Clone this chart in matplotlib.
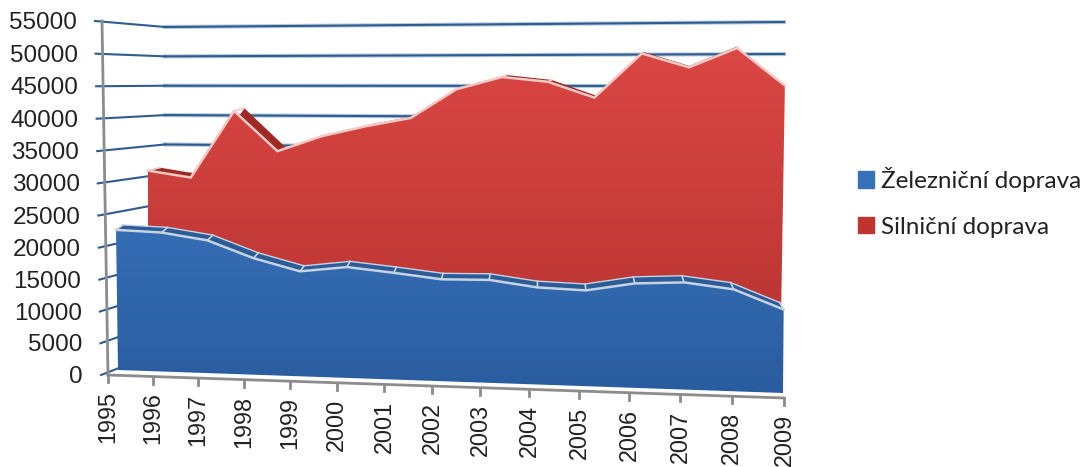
import numpy as np
import matplotlib
matplotlib.use("Agg")
import matplotlib.pyplot as plt
from matplotlib.patches import Patch
from matplotlib.transforms import Transform

years = np.arange(1995, 2010)
zeleznicni = [22050, 21800, 20750, 18150, 16300, 17150, 16450, 15650, 15750, 14800, 14550, 15800, 16150, 15300, 12500]
silnicni = [30300, 29300, 40200, 33800, 36300, 38000, 39400, 44000, 46000, 45300, 42900, 49800, 47700, 50700, 45000]
y_ticks = np.arange(0, 55001, 5000)


class Plane(Transform):
    # maps (year, value) to picture pixels, from the four corners of a 3D chart plane
    input_dims = output_dims = 2

    def __init__(self, bl, br, tl, tr):
        super().__init__()
        src = [(1995, 0), (2009, 0), (1995, 55000), (2009, 55000)]
        A, b = [], []
        for (u, v), (x, y) in zip(src, [bl, br, tl, tr]):
            u, v = (u - 1995) / 14, v / 55000
            A.append([u, v, 1, 0, 0, 0, -u * x, -v * x])
            A.append([0, 0, 0, u, v, 1, -u * y, -v * y])
            b += [x, y]
        self.h = np.append(np.linalg.solve(np.array(A, float), np.array(b, float)), 1).reshape(3, 3)

    def transform_non_affine(self, values):
        values = np.asarray(values, float)
        p = np.c_[(values[:, 0] - 1995) / 14, values[:, 1] / 55000, np.ones(len(values))] @ self.h.T
        return p[:, :2] / p[:, 2:]


axis_plane = Plane((108, 375), (784, 398), (102, 21), (790, 13))
back_plane = Plane((165, 350), (784, 374), (165, 27), (784, 22))
blue_front = Plane((118, 370), (783, 393), (113, 18), (786, 22))
blue_back = Plane((125, 365), (779, 386), (120, 13), (782, 15))
red_front = Plane((148, 355), (780, 378), (148, 19), (786, 20))
red_back = Plane((160, 352), (778, 376), (160, 16), (784, 19))

fig = plt.figure(figsize=(10.83, 4.67), dpi=100)
ax = fig.add_axes([0, 0, 1, 1])
ax.axis("off")


def on(plane):
    return plane + ax.transData


def left_end(v):
    return axis_plane.transform_non_affine(np.array([[1995, v]]))[0]


# walls, the lower lines stop behind the red area
for v in y_ticks:
    end = 2009 if v > silnicni[-1] else 2008
    ax.plot([1995, end], [v, v], transform=on(back_plane), color="#b9cbe0", lw=3, zorder=1)
    ax.plot([1995, end], [v, v], transform=on(back_plane), color="#2f5c8f", lw=1.5, zorder=1.1)
    x0, y0 = left_end(v)
    x1, y1 = back_plane.transform_non_affine(np.array([[1995, v]]))[0]
    ax.plot([x0 - 7, x1], [y0, y1], color="#2f5c8f", lw=1.5, zorder=1.1)
    ax.text(x0 - 25, y0 + 2, str(v), ha="right", va="center", fontsize=17.5,
            family="Liberation Sans", color="#222222")

ax.plot([1995, 1995], [0, 55000], transform=on(axis_plane), color="#8c8c8c", lw=2, zorder=1.2)
ax.plot([1995, 2009], [0, 0], transform=on(axis_plane), color="#8c8c8c", lw=2, zorder=1.2)

# ticks and labels on the year axis
for yr in years:
    x, y = axis_plane.transform_non_affine(np.array([[yr, 0]]))[0]
    ax.plot([x, x], [y, y + 7], color="#8c8c8c", lw=2, zorder=1.2)
    ax.text(x, y + 16, str(yr), rotation=90, ha="center", va="top", fontsize=16.8,
            family="Liberation Sans", color="#222222")


def draw_series(values, front, back, top, bottom, strip, edge, z, back_edge):
    v = np.array(values)
    # top strip goes under the front face, only the parts facing the viewer stay visible
    xb = front.transform_non_affine(np.c_[years, v])
    xt = back.transform_non_affine(np.c_[years, v])
    ax.fill(np.r_[xb[:, 0], xt[::-1, 0]], np.r_[xb[:, 1], xt[::-1, 1]], color=strip, zorder=z, lw=0)
    if back_edge:
        ax.plot(years, v, transform=on(back), color=edge, lw=1, zorder=z + 0.1)
    for a, b in zip(xb, xt):
        ax.plot([a[0], b[0]], [a[1], b[1]], color=edge, lw=1.2, zorder=z + 0.1)
    poly = ax.fill_between(years, 0, v, transform=on(front), color="none", lw=0, zorder=z + 0.2)
    ramp = np.linspace(0, 1, 256)[:, None, None]
    img = ax.imshow(ramp * np.array(bottom) + (1 - ramp) * np.array(top),
                    extent=[100, 800, 400, 40], aspect="auto", zorder=z + 0.2)
    img.set_clip_path(poly.get_paths()[0], on(front))
    ax.plot(years, v, transform=on(front), color=edge, lw=1.8, zorder=z + 0.3)


draw_series(silnicni, red_front, red_back, (0.86, 0.28, 0.27), (0.70, 0.19, 0.18), "#9e2a26", "#f3c9c4", 2, False)
draw_series(zeleznicni, blue_front, blue_back, (0.26, 0.50, 0.80), (0.16, 0.36, 0.62), "#2b5c97", "#c6d3e2", 3, True)

ax.legend(handles=[Patch(color="#3571b8", label="Železniční doprava"), Patch(color="#c0332f", label="Silniční doprava")],
          loc="upper left", bbox_to_anchor=(858 / 1083, 1 - 167 / 467), frameon=False,
          prop={"family": "Lato", "size": 17.5}, handlelength=0.66, handleheight=0.66,
          handletextpad=0.3, labelspacing=1.02, borderpad=0, borderaxespad=0, labelcolor="#222222")

ax.set_xlim(0, 1083)
ax.set_ylim(467, 0)
fig.savefig("out.png", dpi=100)
